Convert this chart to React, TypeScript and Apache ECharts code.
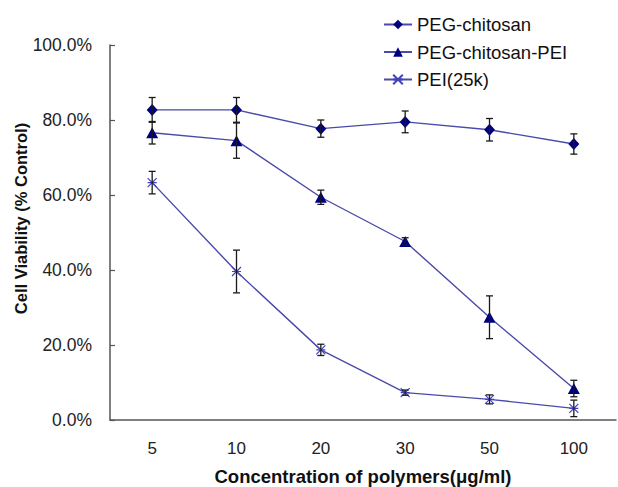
import React, { useEffect, useRef } from "react";
import * as echarts from "echarts";

// Polymer concentrations (µg/ml) on the category axis
const concentrations = ["5", "10", "20", "30", "50", "100"];

// Mean cell viability (%) and standard deviations for each polymer
const pegChitosan = [82.7, 82.7, 77.7, 79.5, 77.4, 73.6];
const pegChitosanErr = [3.3, 3.3, 2.3, 2.9, 3.0, 2.7];

const pegChitosanPei = [76.6, 74.5, 59.4, 47.6, 27.4, 8.4];
const pegChitosanPeiErr = [3.0, 4.7, 1.9, 1.0, 5.7, 2.2];

const pei25k = [63.3, 39.6, 18.7, 7.3, 5.5, 3.1];
const pei25kErr = [3.0, 5.7, 1.5, 0.7, 1.2, 2.2];

const yTicks = [0, 20, 40, 60, 80, 100];

const seriesNames = ["PEG-chitosan", "PEG-chitosan-PEI", "PEI(25k)"];

const FONT = "'Liberation Sans', Arial, sans-serif";
const LINE_COLOR = "#4a4aa8";
const MARKER_COLOR = "#000080";

const crossSymbol = "path://M0,0L10,10M10,0L0,10M0,5L10,5";

function errorData(vals: number[], errs: number[]) {
  return vals.map((v, i) => [i, v, errs[i]]);
}

function errorBarSeries(name: string, vals: number[], errs: number[]) {
  return {
    type: "custom",
    name: name + " SD",
    data: errorData(vals, errs),
    encode: { x: 0, y: 1 },
    z: 5,
    silent: true,
    renderItem: (_params: any, api: any) => {
      const x = api.value(0);
      const v = api.value(1);
      const e = api.value(2);
      const hi = api.coord([x, v + e]);
      const lo = api.coord([x, Math.max(0, v - e)]);
      const w = 3.5;
      const style = { stroke: "#1a1a1a", lineWidth: 1.3 };
      return {
        type: "group",
        children: [
          { type: "line", shape: { x1: hi[0], y1: hi[1], x2: lo[0], y2: lo[1] }, style },
          { type: "line", shape: { x1: hi[0] - w, y1: hi[1], x2: hi[0] + w, y2: hi[1] }, style },
          { type: "line", shape: { x1: lo[0] - w, y1: lo[1], x2: lo[0] + w, y2: lo[1] }, style },
        ],
      };
    },
  };
}

export default function App() {
  const ref = useRef<HTMLDivElement>(null);

  useEffect(() => {
    if (!ref.current) return;
    const chart = echarts.init(ref.current, undefined, { renderer: "svg" });
    chart.setOption({
      animation: false,
      backgroundColor: "#ffffff",
      textStyle: { fontFamily: FONT },
      legend: {
        orient: "vertical",
        left: 378,
        top: 10,
        itemWidth: 28,
        itemHeight: 12,
        itemGap: 8.5,
        data: seriesNames,
        textStyle: { fontFamily: FONT, fontSize: 18.5, color: "#111", lineHeight: 18 },
      },
      grid: { left: 110, right: 2, top: 45, bottom: 67, outerBoundsMode: "none", containLabel: false },
      xAxis: {
        type: "category",
        data: concentrations,
        boundaryGap: true,
        name: "Concentration of polymers(μg/ml)",
        nameLocation: "middle",
        nameGap: 47,
        nameMoveOverlap: false,
        nameTextStyle: { fontFamily: FONT, fontSize: 18.5, fontWeight: "bold", color: "#111" },
        axisLine: { lineStyle: { color: "#555", width: 1.5 } },
        axisTick: { inside: true, length: 5, lineStyle: { color: "#555", width: 1.2 } },
        axisLabel: { fontFamily: FONT, fontSize: 17, color: "#222", margin: 20 },
        splitLine: { show: false },
      },
      yAxis: {
        type: "value",
        min: yTicks[0],
        max: yTicks[yTicks.length - 1],
        interval: 20,
        name: "Cell Viability (% Control)",
        nameLocation: "middle",
        nameGap: 81,
        nameMoveOverlap: false,
        nameTextStyle: {
          fontFamily: FONT,
          fontSize: 16.5,
          fontWeight: "bold",
          color: "#111",
          padding: [0, 0, 0, 28],
        },
        axisLine: { show: true, lineStyle: { color: "#555", width: 1.5 } },
        axisTick: { show: true, inside: true, length: 5, lineStyle: { color: "#555", width: 1.2 } },
        axisLabel: {
          fontFamily: FONT,
          fontSize: 17.5,
          color: "#222",
          margin: 18,
          formatter: (v: number) => v.toFixed(1) + "%",
        },
        splitLine: { show: false },
      },
      series: [
        {
          type: "line",
          name: seriesNames[0],
          data: pegChitosan,
          symbol: "diamond",
          symbolSize: [11, 12],
          z: 3,
          lineStyle: { color: LINE_COLOR, width: 1.4 },
          itemStyle: { color: MARKER_COLOR },
        },
        {
          type: "line",
          name: seriesNames[1],
          data: pegChitosanPei,
          symbol: "triangle",
          symbolSize: [12, 11],
          z: 3,
          lineStyle: { color: LINE_COLOR, width: 1.4 },
          itemStyle: { color: MARKER_COLOR },
        },
        {
          type: "line",
          name: seriesNames[2],
          data: pei25k,
          symbol: crossSymbol,
          symbolSize: 9,
          z: 3,
          lineStyle: { color: LINE_COLOR, width: 1.4 },
          itemStyle: { color: "none", borderColor: "#4040c0", borderWidth: 1.2 },
        },
        errorBarSeries(seriesNames[0], pegChitosan, pegChitosanErr),
        errorBarSeries(seriesNames[1], pegChitosanPei, pegChitosanPeiErr),
        errorBarSeries(seriesNames[2], pei25k, pei25kErr),
      ],
    });
    return () => chart.dispose();
  }, []);

  return (
    <div
      ref={ref}
      style={{ position: "absolute", left: 0, top: 0, width: 618, height: 487 }}
    />
  );
}
